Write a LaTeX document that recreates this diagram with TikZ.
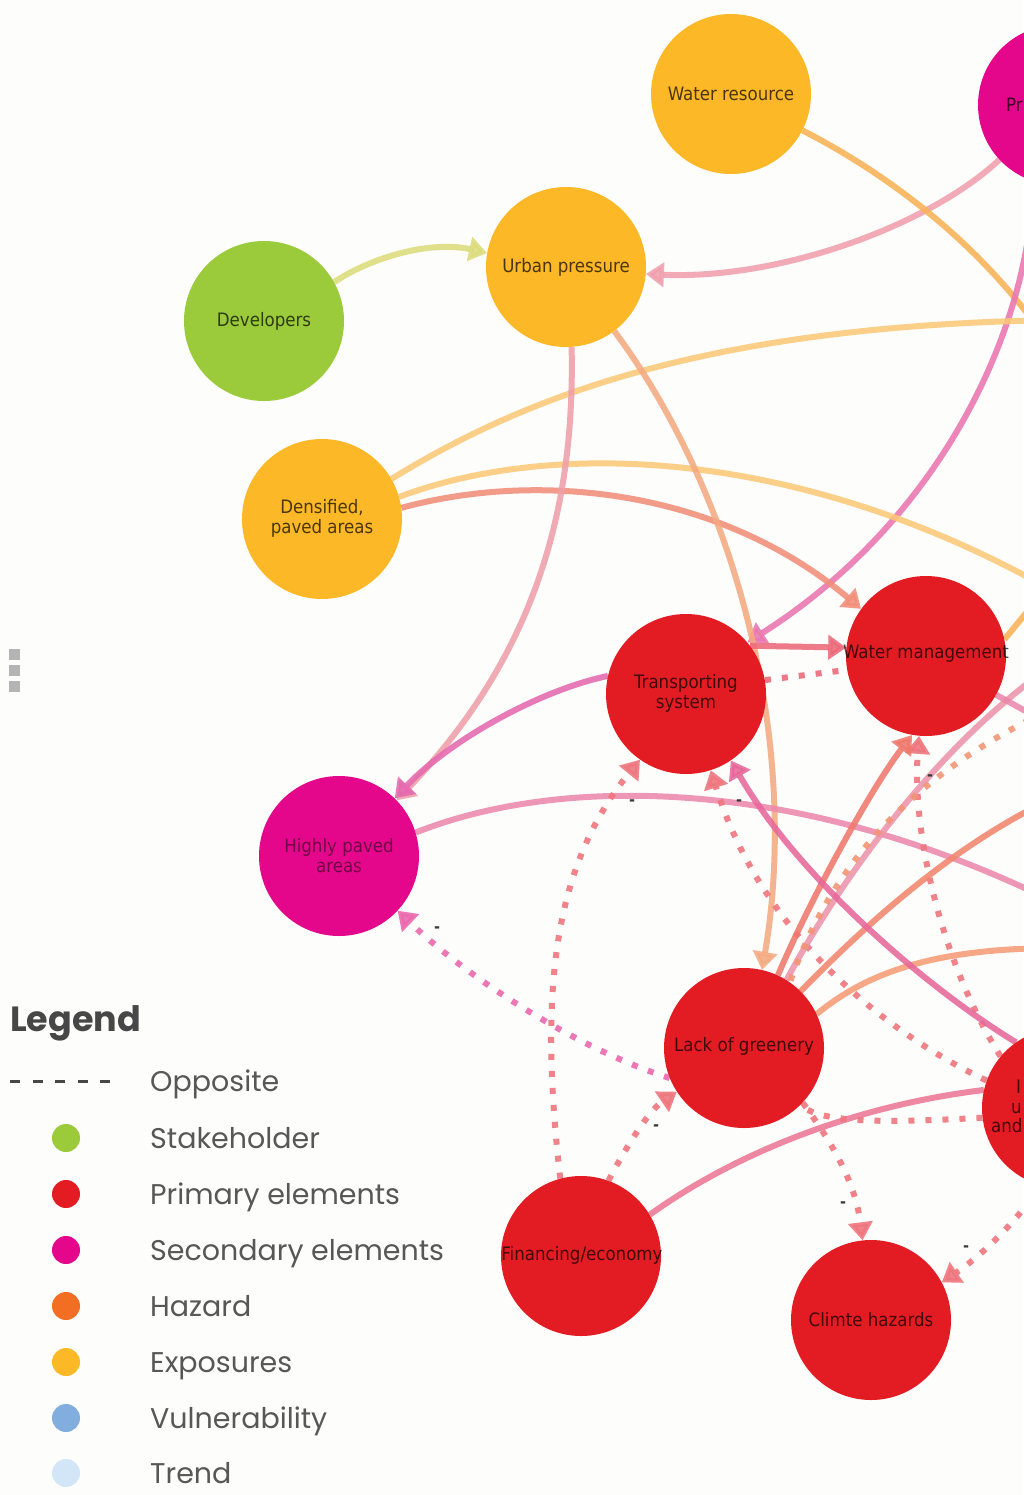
\documentclass[tikz,border=0pt]{standalone}
\usepackage{fontspec}
\newfontfamily\nodefont{DejaVu Sans Condensed}
\newfontfamily\legfont{Poppins}
\usetikzlibrary{arrows.meta}
\pgfdeclarelayer{bg}
\pgfdeclarelayer{edges}
\pgfsetlayers{bg,edges,main}
\definecolor{cbg}{HTML}{FDFDFC}
\definecolor{cyel}{HTML}{FDB827}
\definecolor{cgrn}{HTML}{9BCA3A}
\definecolor{cred}{HTML}{E31C23}
\definecolor{cmag}{HTML}{E4068B}
\definecolor{corg}{HTML}{F26E22}
\definecolor{cblu}{HTML}{82AEDF}
\definecolor{ctrd}{HTML}{D2E6F7}
\definecolor{kca}{HTML}{DDDC7C}
\definecolor{kcb}{HTML}{F19FAE}
\definecolor{kcc}{HTML}{F8B256}
\definecolor{kcd}{HTML}{EA76B0}
\definecolor{kce}{HTML}{FCC978}
\definecolor{kcf}{HTML}{F18E78}
\definecolor{kcg}{HTML}{EF9FAA}
\definecolor{kch}{HTML}{F5AA82}
\definecolor{kci}{HTML}{E56AAF}
\definecolor{kcj}{HTML}{EC88AC}
\definecolor{kck}{HTML}{EC6A7A}
\definecolor{kdot}{HTML}{EF767E}
\definecolor{kdotm}{HTML}{EA6AAE}
\definecolor{kcl}{HTML}{EF786C}
\definecolor{kcm}{HTML}{EC94AC}
\definecolor{kcn}{HTML}{F39574}
\definecolor{kco}{HTML}{F2866E}
\definecolor{kcp}{HTML}{F59C76}
\definecolor{kcq}{HTML}{E7679A}
\definecolor{kcr}{HTML}{EC7795}
\definecolor{khandle}{HTML}{B4B4B4}
\tikzset{
  circ/.style={circle, minimum size=160pt, inner sep=0pt, draw=none},
  ntext/.style={font=\nodefont\fontsize{18.5}{20}\selectfont, text=black, text opacity=0.7, align=center, inner sep=0pt},
  edge/.style={line width=6pt, opacity=0.88},
  tip/.style={-{Triangle[length=18pt,width=24pt]}},
  dots/.style={line width=6pt, opacity=0.9, dash pattern=on 6pt off 11pt},
  minus/.style={font=\nodefont\bfseries\fontsize{16}{16}\selectfont, text=black!78, inner sep=0pt},
  legtitle/.style={font=\legfont\bfseries\fontsize{35}{35}\selectfont, text=black!72, anchor=base west, inner sep=0pt},
  legtext/.style={font=\legfont\fontsize{28.5}{28.5}\selectfont, text=black!66, anchor=base west, inner sep=0pt},
  legdot/.style={circle, minimum size=28pt, inner sep=0pt},
  legdash/.style={line width=3pt, draw=black!72, dash pattern=on 10pt off 12.5pt}
}
\begin{document}
\begin{tikzpicture}[x=1pt,y=-1pt]
\useasboundingbox (0,0) rectangle (1023,1495);
\begin{pgfonlayer}{bg}
\fill[cbg] (0,0) rectangle (1023,1495);
\end{pgfonlayer}

% handle
\fill[khandle] (9,649) rectangle (20,660);
\fill[khandle] (9,665) rectangle (20,676);
\fill[khandle] (9,681) rectangle (20,692);

% nodes
\node[circ, fill=cyel] (wr) at (731,94) {};
\node[ntext] (wrt) at (wr) {Water resource};
\node[circ, fill=cmag] (pr) at (1058,105) {};
\node[ntext, anchor=base west] (prt) at (1006,112) {Pr};
\node[circ, fill=cyel] (up) at (566,267) {};
\node[ntext] (upt) at (up) {Urban pressure};
\node[circ, fill=cgrn] (dev) at (264,321) {};
\node[ntext] (devt) at (dev) {Developers};
\node[circ, fill=cyel] (dens) at (322,519) {};
\node[ntext] (denst) at (322,518) {Densified,\\paved areas};
\node[circ, fill=cred] (ts) at (686,694) {};
\node[ntext] (tst) at (686,693) {Transporting\\system};
\node[circ, fill=cred] (wm) at (926,656) {};
\node[ntext] (wmt) at (926,654) {Water management};
\node[circ, fill=cmag] (hp) at (339,856) {};
\node[ntext, text opacity=0.5] (hpt) at (339,856) {Highly paved\\areas};
\node[circ, fill=cred] (log) at (744,1048) {};
\node[ntext] (logt) at (744,1046) {Lack of greenery};
\node[circ, fill=cred] (fin) at (581,1256) {};
\node[ntext] (fint) at (582,1255) {Financing/economy};
\node[circ, fill=cred] (ch) at (871,1320) {};
\node[ntext] (cht) at (871,1320) {Climte hazards};
\node[circ, fill=cred] (rn) at (1062,1108) {};
\node[ntext, anchor=base west] (rnt1) at (1016,1093) {I};
\node[ntext, anchor=base west] (rnt2) at (1011,1113) {u};
\node[ntext, anchor=base west] (rnt3) at (991,1132) {and};

% free ends beyond the right edge
\coordinate (o1) at (1050,345);
\coordinate (o2) at (1060,320);
\coordinate (o3) at (1060,595);
\coordinate (o4) at (1060,905);
\coordinate (o5) at (1060,660);
\coordinate (o6) at (1060,705);
\coordinate (o7) at (1060,795);
\coordinate (o8) at (1060,948);
\coordinate (o9) at (1060,730);
\coordinate (o10) at (1045,590);

\begin{pgfonlayer}{edges}
\draw[edge, kca, tip] (dev.29) .. controls (370,258) and (430,240) .. (up.170);
\draw[edge, kcb, tip] (pr.223) .. controls (930,225) and (780,280) .. (up.-5);
\draw[edge, kcc] (wr.-27) .. controls (880,170) and (980,240) .. (o1);
\draw[edge, kcd, tip] (pr.252) .. controls (1030,330) and (940,520) .. (ts.40);
\draw[edge, kce] (dens.30) .. controls (520,400) and (700,325) .. (o2);
\draw[edge, kce] (dens.16) .. controls (550,440) and (800,445) .. (o3);
\draw[edge, kcf, tip] (dens.8) .. controls (540,470) and (720,490) .. (wm.144);
\draw[edge, kcg, tip] (up.-86) .. controls (575,500) and (540,650) .. (hp.44);
\draw[edge, kch, tip] (up.-53) .. controls (740,500) and (800,750) .. (log.77);
\draw[edge, kci, tip] (ts.167) .. controls (540,690) and (450,740) .. (hp.46);
\draw[edge, kcj] (hp.17) .. controls (560,775) and (800,775) .. (o4);
\draw[edge, kck, tip] (ts.37) -- (wm.174);
\draw[dots, kck] (ts.10) -- (wm.190);
\draw[dots, kdot, tip] (fin.105) .. controls (540,1000) and (550,870) .. (ts.235);
\draw[dots, kdot, tip] (fin.70) .. controls (630,1140) and (650,1110) .. (log.213);
\draw[dots, kdotm, tip] (log.202) .. controls (580,1050) and (470,980) .. (hp.-43);
\draw[dots, kdot, tip] (rn.160) .. controls (880,1030) and (760,930) .. (ts.-72);
\draw[dots, kdot, tip] (rn.140) .. controls (940,960) and (912,830) .. (wm.-95);
\draw[edge, kcl, tip] (log.65) .. controls (810,900) and (870,790) .. (wm.-100);
\draw[edge, kcm] (log.58) .. controls (840,880) and (940,740) .. (o5);
\draw[dots, kcn] (o6) .. controls (940,760) and (840,840) .. (log.55);
\draw[edge, kco] (log.45) .. controls (870,920) and (960,840) .. (o7);
\draw[edge, kcp] (log.25) .. controls (870,970) and (940,948) .. (o8);
\draw[edge, kcq, tip] (rn.125) .. controls (930,990) and (800,880) .. (ts.-56);
\draw[edge, kcr] (fin.31) .. controls (740,1150) and (860,1105) .. (rn.167);
\draw[dots, kdot, tip] (log.-43) .. controls (830,1140) and (855,1180) .. (ch.96);
\draw[dots, kdot] (rn.187) .. controls (900,1122) and (820,1125) .. (log.-45);
\draw[dots, kdot, tip] (rn.-105) .. controls (1010,1230) and (975,1260) .. (ch.28);
\draw[edge, kcj] (wm.-29) -- (o9);
\draw[edge, kcc] (wm.12) -- (o10);
\end{pgfonlayer}

% minus labels
\node[minus] (m1) at (632,803) {-};
\node[minus] (m2) at (739,803) {-};
\node[minus] (m3) at (437,930) {-};
\node[minus] (m4) at (656,1128) {-};
\node[minus] (m5) at (843,1205) {-};
\node[minus] (m6) at (966,1249) {-};
\node[minus] (m7) at (930,778) {-};

% legend
\node[legtitle] (lg) at (10,1031) {Legend};
\coordinate (ld1) at (10,1081);
\coordinate (ld2) at (110,1081);
\draw[legdash] (ld1) -- (ld2);
\node[legtext] (l0) at (150,1091) {Opposite};
\node[legdot, fill=cgrn] (d1) at (66,1138) {};
\node[legtext] (l1) at (150,1148) {Stakeholder};
\node[legdot, fill=cred] (d2) at (66,1194) {};
\node[legtext] (l2) at (150,1204) {Primary elements};
\node[legdot, fill=cmag] (d3) at (66,1250) {};
\node[legtext] (l3) at (150,1260) {Secondary elements};
\node[legdot, fill=corg] (d4) at (66,1306) {};
\node[legtext] (l4) at (150,1316) {Hazard};
\node[legdot, fill=cyel] (d5) at (66,1362) {};
\node[legtext] (l5) at (150,1372) {Exposures};
\node[legdot, fill=cblu] (d6) at (66,1418) {};
\node[legtext] (l6) at (150,1428) {Vulnerability};
\node[legdot, fill=ctrd] (d7) at (66,1473) {};
\node[legtext] (l7) at (150,1483) {Trend};
\end{tikzpicture}
\end{document}
